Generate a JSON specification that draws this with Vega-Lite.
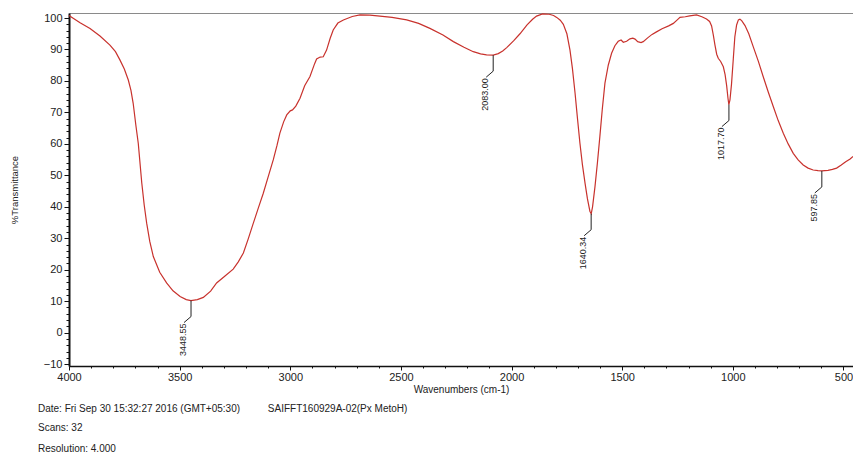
{
  "$schema": "https://vega.github.io/schema/vega-lite/v6.json",
  "width": 784,
  "height": 353,
  "autosize": {"type": "none"},
  "padding": {"left": 69, "top": 13, "right": 0, "bottom": 93},
  "background": "white",
  "config": {
    "font": "Liberation Sans",
    "view": {"stroke": "#8a8a8a", "strokeWidth": 1}
  },
  "title": {
    "text": "Date: Fri Sep 30 15:32:27 2016 (GMT+05:30)\u00a0\u00a0\u00a0\u00a0\u00a0\u00a0\u00a0\u00a0\u00a0\u00a0SAIFFT160929A-02(Px MetoH)",
    "subtitle": ["Scans: 32", "Resolution: 4.000"],
    "orient": "bottom",
    "anchor": "start",
    "frame": "group",
    "dx": -31,
    "offset": 10,
    "fontSize": 10,
    "fontWeight": "normal",
    "color": "#222",
    "subtitleFontSize": 10,
    "subtitleColor": "#222",
    "subtitleLineHeight": 20.5,
    "subtitlePadding": 9
  },
  "datasets": {
    "spectrum": [
      {"wn": 4000, "T": 100.8}, {"wn": 3950, "T": 98.5}, {"wn": 3905, "T": 96.7}, {"wn": 3860, "T": 94.3},
      {"wn": 3815, "T": 91.4}, {"wn": 3790, "T": 89.3}, {"wn": 3770, "T": 86.7}, {"wn": 3750, "T": 83.8},
      {"wn": 3732, "T": 80.3}, {"wn": 3720, "T": 77}, {"wn": 3710, "T": 72.9}, {"wn": 3698, "T": 66},
      {"wn": 3687, "T": 60.2}, {"wn": 3671, "T": 47.5}, {"wn": 3660, "T": 40.5}, {"wn": 3649, "T": 34.8},
      {"wn": 3635, "T": 29}, {"wn": 3619, "T": 24.2}, {"wn": 3590, "T": 19.2}, {"wn": 3559, "T": 15.8},
      {"wn": 3530, "T": 13.3}, {"wn": 3498, "T": 11.5}, {"wn": 3470, "T": 10.5}, {"wn": 3449, "T": 10.2},
      {"wn": 3420, "T": 10.5}, {"wn": 3393, "T": 11.2}, {"wn": 3360, "T": 13.2}, {"wn": 3333, "T": 15.8},
      {"wn": 3295, "T": 18}, {"wn": 3258, "T": 20.2}, {"wn": 3235, "T": 22.5}, {"wn": 3212, "T": 25.3},
      {"wn": 3190, "T": 29.8}, {"wn": 3167, "T": 34.8}, {"wn": 3145, "T": 39.5}, {"wn": 3122, "T": 44.3},
      {"wn": 3100, "T": 49.5}, {"wn": 3077, "T": 54.9}, {"wn": 3060, "T": 59.5}, {"wn": 3047, "T": 63.4},
      {"wn": 3030, "T": 67}, {"wn": 3016, "T": 69.2}, {"wn": 3000, "T": 70.5}, {"wn": 2990, "T": 70.8},
      {"wn": 2975, "T": 72}, {"wn": 2956, "T": 74.5}, {"wn": 2935, "T": 78.5}, {"wn": 2911, "T": 81.4},
      {"wn": 2890, "T": 85.5}, {"wn": 2881, "T": 87}, {"wn": 2865, "T": 87.6}, {"wn": 2851, "T": 87.7},
      {"wn": 2836, "T": 89.8}, {"wn": 2820, "T": 93.5}, {"wn": 2806, "T": 96.2}, {"wn": 2785, "T": 98.4},
      {"wn": 2760, "T": 99.4}, {"wn": 2720, "T": 100.5}, {"wn": 2685, "T": 101}, {"wn": 2640, "T": 100.9},
      {"wn": 2595, "T": 100.6}, {"wn": 2540, "T": 100.2}, {"wn": 2474, "T": 99.4}, {"wn": 2420, "T": 98.3},
      {"wn": 2369, "T": 96.7}, {"wn": 2310, "T": 94.6}, {"wn": 2263, "T": 92.5}, {"wn": 2215, "T": 90.7},
      {"wn": 2173, "T": 89.3}, {"wn": 2140, "T": 88.6}, {"wn": 2113, "T": 88.3}, {"wn": 2083, "T": 88.2},
      {"wn": 2060, "T": 88.7}, {"wn": 2040, "T": 89.5}, {"wn": 2022, "T": 90.6}, {"wn": 1990, "T": 92.8},
      {"wn": 1962, "T": 95}, {"wn": 1930, "T": 97.8}, {"wn": 1905, "T": 99.6}, {"wn": 1887, "T": 100.6},
      {"wn": 1860, "T": 101.3}, {"wn": 1830, "T": 101.2}, {"wn": 1810, "T": 100.8}, {"wn": 1796, "T": 100.2},
      {"wn": 1780, "T": 99.3}, {"wn": 1766, "T": 98}, {"wn": 1750, "T": 95}, {"wn": 1736, "T": 89.8},
      {"wn": 1725, "T": 84}, {"wn": 1713, "T": 76.1}, {"wn": 1702, "T": 68}, {"wn": 1691, "T": 60.2},
      {"wn": 1680, "T": 53.5}, {"wn": 1668, "T": 47.5}, {"wn": 1657, "T": 42.5}, {"wn": 1646, "T": 38.6},
      {"wn": 1640, "T": 37.8}, {"wn": 1634, "T": 40}, {"wn": 1623, "T": 46.4}, {"wn": 1612, "T": 54},
      {"wn": 1601, "T": 62.3}, {"wn": 1590, "T": 71}, {"wn": 1578, "T": 79.3}, {"wn": 1563, "T": 85},
      {"wn": 1548, "T": 88.8}, {"wn": 1533, "T": 91.2}, {"wn": 1518, "T": 92.6}, {"wn": 1505, "T": 93},
      {"wn": 1495, "T": 92.3}, {"wn": 1480, "T": 92.6}, {"wn": 1465, "T": 93.4}, {"wn": 1452, "T": 93.6},
      {"wn": 1442, "T": 93.3}, {"wn": 1430, "T": 92.5}, {"wn": 1415, "T": 92.2}, {"wn": 1405, "T": 92.5},
      {"wn": 1385, "T": 93.7}, {"wn": 1365, "T": 94.8}, {"wn": 1345, "T": 95.6}, {"wn": 1320, "T": 96.6},
      {"wn": 1290, "T": 97.5}, {"wn": 1269, "T": 98.3}, {"wn": 1250, "T": 99.5}, {"wn": 1239, "T": 100.2},
      {"wn": 1215, "T": 100.4}, {"wn": 1195, "T": 100.7}, {"wn": 1164, "T": 101}, {"wn": 1140, "T": 100.4},
      {"wn": 1119, "T": 99.7}, {"wn": 1105, "T": 98.9}, {"wn": 1096, "T": 97.5}, {"wn": 1088, "T": 94.5},
      {"wn": 1081, "T": 91.5}, {"wn": 1073, "T": 88.5}, {"wn": 1066, "T": 87.2}, {"wn": 1055, "T": 86.2},
      {"wn": 1043, "T": 84.5}, {"wn": 1035, "T": 82}, {"wn": 1028, "T": 78.5}, {"wn": 1022, "T": 74.5},
      {"wn": 1018, "T": 72.5}, {"wn": 1013, "T": 74}, {"wn": 1006, "T": 79}, {"wn": 998, "T": 87},
      {"wn": 991, "T": 94}, {"wn": 983, "T": 97.8}, {"wn": 975, "T": 99.4}, {"wn": 968, "T": 99.6},
      {"wn": 960, "T": 99.2}, {"wn": 945, "T": 97.6}, {"wn": 928, "T": 95}, {"wn": 908, "T": 90.9},
      {"wn": 885, "T": 86.3}, {"wn": 863, "T": 81.4}, {"wn": 840, "T": 76.5}, {"wn": 817, "T": 71.8},
      {"wn": 795, "T": 67.4}, {"wn": 772, "T": 63.4}, {"wn": 750, "T": 60}, {"wn": 727, "T": 57},
      {"wn": 705, "T": 54.9}, {"wn": 682, "T": 53.3}, {"wn": 660, "T": 52.3}, {"wn": 637, "T": 51.7},
      {"wn": 615, "T": 51.5}, {"wn": 598, "T": 51.4}, {"wn": 570, "T": 51.6}, {"wn": 550, "T": 51.9},
      {"wn": 531, "T": 52.3}, {"wn": 510, "T": 53.3}, {"wn": 490, "T": 54.3}, {"wn": 470, "T": 55.2},
      {"wn": 457, "T": 56}
    ],
    "peaks": [
      {"wn": 3448.55, "T": 10.2, "label": "3448.55"},
      {"wn": 2083.0, "T": 88.2, "label": "2083.00"},
      {"wn": 1640.34, "T": 37.8, "label": "1640.34"},
      {"wn": 1017.7, "T": 72.5, "label": "1017.70"},
      {"wn": 597.85, "T": 51.4, "label": "597.85"}
    ]
  },
  "layer": [
    {
      "data": {"name": "spectrum"},
      "mark": {"type": "line", "color": "#c8322d", "strokeWidth": 1.2, "clip": true},
      "encoding": {
        "x": {
          "field": "wn", "type": "quantitative",
          "scale": {"domain": [4000, 457], "nice": false, "zero": false},
          "axis": {
            "title": "Wavenumbers (cm-1)",
            "values": [4000, 3900, 3800, 3700, 3600, 3500, 3400, 3300, 3200, 3100, 3000, 2900, 2800, 2700, 2600, 2500, 2400, 2300, 2200, 2100, 2000, 1900, 1800, 1700, 1600, 1500, 1400, 1300, 1200, 1100, 1000, 900, 800, 700, 600, 500],
            "tickCount": 1000,
            "labelExpr": "datum.value % 500 === 0 ? datum.label : ''",
            "format": "d",
            "grid": false,
            "domainColor": "#111",
            "domainWidth": 1.5,
            "tickColor": "#111",
            "tickSize": {"condition": {"test": "datum.value % 500 === 0", "value": 4}, "value": 2},
            "labelFontSize": 11,
            "labelColor": "#222",
            "labelPadding": 1,
            "labelFlush": false,
            "labelOverlap": false,
            "titleFontSize": 10,
            "titleFontWeight": "normal",
            "titleColor": "#222",
            "titlePadding": 2
          }
        },
        "y": {
          "field": "T", "type": "quantitative",
          "scale": {"domain": [-10.6, 101.6], "nice": false, "zero": false},
          "axis": {
            "title": "%Transmittance",
            "values": [-10, -8, -6, -4, -2, 0, 2, 4, 6, 8, 10, 12, 14, 16, 18, 20, 22, 24, 26, 28, 30, 32, 34, 36, 38, 40, 42, 44, 46, 48, 50, 52, 54, 56, 58, 60, 62, 64, 66, 68, 70, 72, 74, 76, 78, 80, 82, 84, 86, 88, 90, 92, 94, 96, 98, 100],
            "tickCount": 1000,
            "format": "d",
            "labelExpr": "datum.value % 10 === 0 ? datum.label : ''",
            "grid": false,
            "domainColor": "#111",
            "domainWidth": 2,
            "tickColor": "#111",
            "tickSize": {"condition": {"test": "datum.value % 10 === 0", "value": 5}, "value": 3},
            "labelFontSize": 11,
            "labelColor": "#222",
            "labelPadding": 2,
            "labelFlush": false,
            "labelOverlap": false,
            "titleFontSize": 9.5,
            "titleFontWeight": "normal",
            "titleColor": "#222",
            "titleX": -55,
            "titleBaseline": "middle"
          }
        }
      }
    },
    {
      "data": {"name": "peaks"},
      "mark": {"type": "rule", "color": "#222", "strokeWidth": 1, "y2Offset": 16},
      "encoding": {
        "x": {"field": "wn", "type": "quantitative"},
        "y": {"field": "T", "type": "quantitative"},
        "y2": {"field": "T"}
      }
    },
    {
      "data": {"name": "peaks"},
      "mark": {"type": "rule", "color": "#222", "strokeWidth": 1, "yOffset": 16, "y2Offset": 22, "x2Offset": -7},
      "encoding": {
        "x": {"field": "wn", "type": "quantitative"},
        "x2": {"field": "wn"},
        "y": {"field": "T", "type": "quantitative"},
        "y2": {"field": "T"}
      }
    },
    {
      "data": {"name": "peaks"},
      "mark": {"type": "text", "angle": 270, "align": "right", "baseline": "middle", "fontSize": 9, "color": "#222", "xOffset": -8, "yOffset": 23},
      "encoding": {
        "x": {"field": "wn", "type": "quantitative"},
        "y": {"field": "T", "type": "quantitative"},
        "text": {"field": "label"}
      }
    }
  ]
}
